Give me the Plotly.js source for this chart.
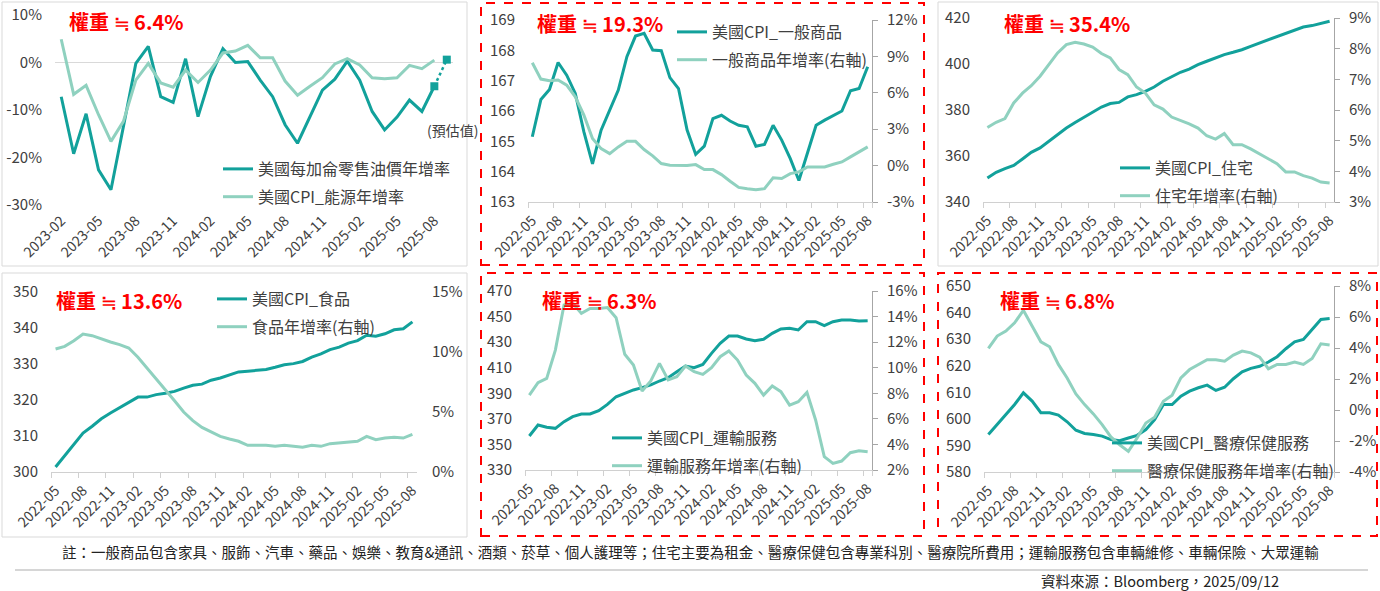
<!DOCTYPE html>
<html lang="zh-Hant">
<head>
<meta charset="UTF-8" />
<title>美國CPI分項走勢</title>
<script src="https://cdn.plot.ly/plotly-3.0.1.min.js"></script>
<style>
  html, body { margin: 0; padding: 0; background: #fff; }
  #chart { width: 1380px; height: 591px; }
</style>
</head>
<body>
<div id="chart"></div>
<script>
// ---- categories ----
const months = [
  "2022-05","2022-06","2022-07","2022-08","2022-09","2022-10","2022-11","2022-12",
  "2023-01","2023-02","2023-03","2023-04","2023-05","2023-06","2023-07","2023-08",
  "2023-09","2023-10","2023-11","2023-12","2024-01","2024-02","2024-03","2024-04",
  "2024-05","2024-06","2024-07","2024-08","2024-09","2024-10","2024-11","2024-12",
  "2025-01","2025-02","2025-03","2025-04","2025-05","2025-06","2025-07","2025-08"
];
const monthsEnergy = [
  "2023-02","2023-03","2023-04","2023-05","2023-06","2023-07","2023-08","2023-09",
  "2023-10","2023-11","2023-12","2024-01","2024-02","2024-03","2024-04","2024-05",
  "2024-06","2024-07","2024-08","2024-09","2024-10","2024-11","2024-12","2025-01",
  "2025-02","2025-03","2025-04","2025-05","2025-06","2025-07","2025-08"
];
const forecastMonths = ["2025-08", "2025-09"];

// ---- tick labels ----
const ticksLong = ["2022-05","2022-08","2022-11","2023-02","2023-05","2023-08","2023-11",
  "2024-02","2024-05","2024-08","2024-11","2025-02","2025-05","2025-08"];
const ticksEnergy = ["2023-02","2023-05","2023-08","2023-11","2024-02","2024-05",
  "2024-08","2024-11","2025-02","2025-05","2025-08"];
const energyTickVals = [-30, -20, -10, 0, 10];
const energyTickText = ["-30%", "-20%", "-10%", "0%", "10%"];
const goodsRightVals = [-3, 0, 3, 6, 9, 12];
const goodsRightText = ["-3%", "0%", "3%", "6%", "9%", "12%"];
const medRightVals = [-4, -2, 0, 2, 4, 6, 8];
const medRightText = ["-4%", "-2%", "0%", "2%", "4%", "6%", "8%"];

// ---- series ----
const oilYoY = [-7.2,-19.2,-10.8,-22.6,-26.8,-13.3,-0.2,3.4,-7.2,-8.4,0.8,
  -11.4,-2.9,2.9,0.0,0.2,-3.7,-7.2,-13.1,-17.0,-11.4,-5.8,-3.5,
  0.3,-3.7,-10.3,-14.2,-11.5,-7.9,-10.3,-5.0];
const energyYoY = [4.9,-6.7,-4.8,-11.0,-16.6,-12.4,-3.7,-0.2,-4.3,-5.2,-1.6,
  -4.2,-1.6,2.0,2.4,3.6,1.0,1.0,-3.9,-6.9,-5.0,-3.2,-0.3,
  0.8,-0.5,-3.2,-3.4,-3.2,-0.6,-1.3,0.5];
const oilForecast = [-5.0, 0.6];

const goodsCPI = [165.15,166.38,166.71,167.6,167.18,166.58,165.31,164.26,165.37,166.03,
  166.69,167.79,168.47,168.56,168.01,167.99,167.1,166.74,165.37,164.57,
  164.84,165.75,165.86,165.67,165.53,165.48,164.84,164.9,165.53,165.04,
  164.43,163.71,164.65,165.53,165.7,165.86,166.0,166.67,166.74,167.46];
const goodsYoY = [8.48,7.13,6.99,7.05,6.63,5.67,4.16,2.23,1.4,0.99,
  1.54,2.0,2.0,1.32,0.8,0.17,0.03,0.03,0.0,0.08,
  -0.33,-0.33,-0.74,-1.29,-1.8,-1.9,-1.98,-1.9,-1.0,-1.07,
  -0.66,-0.52,-0.11,-0.11,-0.11,0.11,0.3,0.72,1.13,1.54];

const shelterCPI = [350.4,352.9,354.5,355.9,358.7,361.6,363.5,366.4,369.3,372.2,
  374.6,376.8,379.1,381.3,382.8,383.3,385.7,386.7,388.1,390.0,
  392.5,394.3,396.4,397.8,399.7,401.2,402.6,404.1,405.1,406.2,
  407.7,409.1,410.6,412.0,413.5,414.9,416.1,416.7,417.8,418.6];
const shelterYoY = [5.43,5.6,5.72,6.23,6.55,6.79,7.1,7.48,7.86,8.13,
  8.21,8.15,8.05,7.84,7.7,7.32,7.15,6.75,6.55,6.17,
  6.03,5.77,5.66,5.55,5.41,5.16,5.05,5.23,4.87,4.87,
  4.73,4.57,4.41,4.25,3.98,3.98,3.86,3.78,3.65,3.62];

const foodCPI = [301.4,304.6,307.8,310.8,312.7,314.8,316.4,317.8,319.4,320.8,
  320.8,321.5,321.9,322.4,323.3,324.1,324.4,325.5,326.1,326.9,
  327.8,328.0,328.2,328.5,329.1,329.8,330.1,330.7,331.9,332.8,
  334.0,334.7,335.8,336.5,338.0,337.7,338.4,339.5,339.8,341.7];
const foodYoY = [10.25,10.47,10.94,11.5,11.36,11.08,10.83,10.61,10.33,9.56,
  8.67,7.75,6.86,5.94,5.0,4.28,3.72,3.33,2.97,2.75,
  2.56,2.22,2.22,2.22,2.14,2.22,2.14,2.06,2.22,2.14,
  2.36,2.42,2.5,2.56,2.97,2.69,2.83,2.89,2.83,3.14];

const transCPI = [356.6,365.2,363.4,362.6,367.8,371.7,373.8,373.8,376.4,381.3,
  387.3,390.0,392.6,394.4,396.5,399.6,402.2,406.9,411.3,410.0,
  412.6,421.2,429.1,434.8,434.8,432.5,431.1,432.2,436.9,440.3,
  440.8,439.5,446.0,446.0,442.9,446.0,447.3,447.3,446.5,446.8];
const transYoY = [7.86,8.83,9.17,11.38,14.9,15.04,14.25,14.64,14.64,14.7,
  13.91,11.05,10.21,8.18,8.96,10.34,9.04,9.3,10.13,9.69,
  9.48,10.0,10.86,11.31,10.6,9.43,8.78,7.86,8.57,8.13,
  7.08,7.34,8.07,5.91,3.04,2.52,2.7,3.35,3.51,3.43];

const medCPI = [594.1,597.9,601.3,605.4,609.8,606.7,602.3,602.3,601.4,598.9,
  595.7,594.5,594.1,593.5,592.2,591.8,592.8,593.8,596.0,599.7,
  605.4,605.4,608.5,610.4,611.7,612.7,610.7,611.9,615.1,617.7,
  619.0,619.8,621.4,623.4,626.4,629.0,629.9,633.7,637.4,637.8];
const medYoY = [3.97,4.77,5.09,5.63,6.43,5.41,4.40,4.08,2.94,2.07,
  1.04,0.35,-0.25,-0.94,-1.74,-2.24,-2.67,-1.81,-0.84,-0.47,
  0.56,0.95,2.07,2.61,2.94,3.24,3.24,3.15,3.54,3.80,
  3.69,3.41,2.66,2.94,2.94,3.09,2.94,3.32,4.27,4.19];

// ---- styling ----
const W = 1380, H = 591;
const FONT = '"Noto Sans CJK TC", "Noto Sans", sans-serif';
const DARK = "#12a19b";
const LIGHT = "#8fd1bf";
const TXT = "#404040";
const fx = (p) => p / W;
const fy = (p) => 1 - p / H;

// plot areas in pixels [left, right, top, bottom]
const boxes = [
  [55, 453, 15, 205],
  [528, 872, 20, 202],
  [983, 1334, 18, 202],
  [51, 417, 292, 472],
  [525, 872, 291, 470],
  [984, 1334, 286, 472]
];

function xName(k) { return k === 1 ? "x" : "x" + k; }
function yLeft(k) { return k === 1 ? "y" : "y" + (2 * k - 1); }
function yRight(k) { return "y" + (2 * k); }

function xAxis(k, cats, tickvals, withLine) {
  const b = boxes[k - 1];
  return {
    domain: [fx(b[0]), fx(b[1])],
    anchor: yLeft(k),
    type: "category",
    categoryorder: "array",
    categoryarray: cats,
    range: [-0.5, cats.length - 0.5],
    tickmode: "array",
    tickvals: tickvals,
    ticktext: tickvals,
    tickson: "boundaries",
    tickangle: -45,
    tickfont: { size: 14, color: TXT },
    showgrid: false,
    zeroline: false,
    showline: withLine,
    linecolor: "#d0d0d0",
    ticks: withLine ? "outside" : "",
    ticklen: 5,
    tickcolor: "#d0d0d0",
    ticklabelstandoff: 4,
    fixedrange: true
  };
}

function leftAxis(k, range, dtick) {
  const b = boxes[k - 1];
  return {
    domain: [fy(b[3]), fy(b[2])],
    anchor: xName(k),
    range: range,
    tick0: range[0],
    dtick: dtick,
    tickfont: { size: 15, color: TXT },
    showgrid: false,
    zeroline: false,
    showline: false,
    ticks: "",
    ticklabelstandoff: 12,
    fixedrange: true
  };
}

function rightAxis(k, range, opts) {
  return Object.assign({
    overlaying: yLeft(k),
    anchor: xName(k),
    side: "right",
    range: range,
    tick0: range[0],
    ticksuffix: "%",
    tickfont: { size: 15, color: TXT },
    showgrid: false,
    zeroline: false,
    showline: true,
    linecolor: "#a6a6a6",
    ticks: "outside",
    ticklen: 5,
    tickcolor: "#a6a6a6",
    ticklabelstandoff: 6,
    fixedrange: true
  }, opts);
}

function line(x, y, name, color, k, right, legend) {
  return {
    type: "scatter", mode: "lines", x: x, y: y, name: name,
    xaxis: xName(k), yaxis: right ? yRight(k) : yLeft(k),
    line: { color: color, width: 3 },
    legend: legend, legendgroup: name,
    hovertemplate: "%{x}: %{y}<extra>" + name + "</extra>"
  };
}

const data = [
  line(monthsEnergy, oilYoY, "美國每加侖零售油價年增率", DARK, 1, false, "legend"),
  line(monthsEnergy, energyYoY, "美國CPI_能源年增率", LIGHT, 1, false, "legend"),
  {
    type: "scatter", mode: "lines+markers", x: forecastMonths, y: oilForecast,
    xaxis: "x", yaxis: "y", showlegend: false,
    line: { color: DARK, width: 2.5, dash: "dot" },
    marker: { symbol: "square", size: 8, color: DARK }
  },
  line(months, goodsCPI, "美國CPI_一般商品", DARK, 2, false, "legend2"),
  line(months, goodsYoY, "一般商品年增率(右軸)", LIGHT, 2, true, "legend2"),
  line(months, shelterCPI, "美國CPI_住宅", DARK, 3, false, "legend3"),
  line(months, shelterYoY, "住宅年增率(右軸)", LIGHT, 3, true, "legend3"),
  line(months, foodCPI, "美國CPI_食品", DARK, 4, false, "legend4"),
  line(months, foodYoY, "食品年增率(右軸)", LIGHT, 4, true, "legend4"),
  line(months, transCPI, "美國CPI_運輸服務", DARK, 5, false, "legend5"),
  line(months, transYoY, "運輸服務年增率(右軸)", LIGHT, 5, true, "legend5"),
  line(months, medCPI, "美國CPI_醫療保健服務", DARK, 6, false, "legend6"),
  line(months, medYoY, "醫療保健服務年增率(右軸)", LIGHT, 6, true, "legend6")
];

const layout = {
  width: W, height: H,
  margin: { l: 0, r: 0, t: 0, b: 0 },
  paper_bgcolor: "#ffffff",
  plot_bgcolor: "rgba(0,0,0,0)",
  font: { family: FONT, color: TXT },
  showlegend: true,
  hovermode: "closest"
};

// x axes
const monthsP1 = monthsEnergy.concat(["2025-09"]);
layout.xaxis = xAxis(1, monthsP1, ticksEnergy, false);
for (let k = 2; k <= 6; k++) layout["xaxis" + k] = xAxis(k, months, ticksLong, true);

// left axes
layout.yaxis = Object.assign(leftAxis(1, [-30, 10], 10), {
  tickmode: "array", tickvals: energyTickVals, ticktext: energyTickText,
  zeroline: true, zerolinecolor: "#d9d9d9", zerolinewidth: 1
});
layout.yaxis3 = leftAxis(2, [163, 169], 1);
layout.yaxis5 = leftAxis(3, [340, 420], 20);
layout.yaxis7 = leftAxis(4, [300, 350], 10);
layout.yaxis9 = leftAxis(5, [330, 470], 20);
layout.yaxis11 = leftAxis(6, [580, 650], 10);

// right axes
layout.yaxis4 = rightAxis(2, [-3, 12], { tickmode: "array", tickvals: goodsRightVals, ticktext: goodsRightText });
layout.yaxis6 = rightAxis(3, [3, 9], { dtick: 1 });
layout.yaxis8 = rightAxis(4, [0, 15], { dtick: 5, showline: false, ticks: "", ticklabelstandoff: 14 });
layout.yaxis10 = rightAxis(5, [2, 16], { dtick: 2 });
layout.yaxis12 = rightAxis(6, [-4, 8], { tickmode: "array", tickvals: medRightVals, ticktext: medRightText });

// legends: [line start x, first row y]
const legendPos = [[223, 167], [677, 30], [1120, 166], [217, 297], [612, 436], [1112, 441]];
legendPos.forEach((p, i) => {
  layout[i === 0 ? "legend" : "legend" + (i + 1)] = {
    x: fx(p[0] - 5), y: fy(p[1] - 15), xanchor: "left", yanchor: "top",
    bgcolor: "rgba(0,0,0,0)", borderwidth: 0,
    font: { size: 16, color: TXT, family: FONT },
    traceorder: "grouped", tracegroupgap: 4, itemwidth: 30
  };
});

// weight labels: [text, left x, center y]
const weights = [
  ["權重 ≒ 6.4%", 67, 22], ["權重 ≒ 19.3%", 535, 23], ["權重 ≒ 35.4%", 1002, 23],
  ["權重 ≒ 13.6%", 54, 300], ["權重 ≒ 6.3%", 540, 300], ["權重 ≒ 6.8%", 998, 300]
];
layout.annotations = weights.map((w) => ({
  xref: "paper", yref: "paper", x: fx(w[1]), y: fy(w[2]),
  xanchor: "left", yanchor: "middle", showarrow: false,
  text: "<b>" + w[0] + "</b>", font: { size: 20, color: "#ff0000", family: FONT }
}));
layout.annotations.push(
  { xref: "paper", yref: "paper", x: fx(425), y: fy(130), xanchor: "left", yanchor: "middle",
    showarrow: false, text: "(預估值)", font: { size: 14, color: TXT } },
  { xref: "paper", yref: "paper", x: fx(690), y: fy(551), xanchor: "center", yanchor: "middle",
    showarrow: false, font: { size: 14.5, color: "#222" },
    text: "註：一般商品包含家具、服飾、汽車、藥品、娛樂、教育&通訊、酒類、菸草、個人護理等；住宅主要為租金、醫療保健包含專業科別、醫療院所費用；運輸服務包含車輛維修、車輛保險、大眾運輸" },
  { xref: "paper", yref: "paper", x: fx(1281), y: fy(580), xanchor: "right", yanchor: "middle",
    showarrow: false, font: { size: 14.5, color: "#222" },
    text: "資料來源：Bloomberg，2025/09/12" }
);

// panel frames
function frame(x0, y0, x1, y1, red) {
  return {
    type: "rect", xref: "paper", yref: "paper",
    x0: fx(x0), x1: fx(x1), y0: fy(y1), y1: fy(y0),
    line: red ? { color: "#ff0000", width: 2, dash: "dash" } : { color: "#d9d9d9", width: 1 },
    layer: "below"
  };
}
layout.shapes = [
  frame(2, 2, 467, 266, false),
  frame(481, 3, 924, 265, true),
  frame(938, 2, 1378, 266, false),
  frame(2, 273, 467, 537, false),
  frame(481, 273, 924, 536, true),
  frame(938, 273, 1377, 536, true),
  { type: "line", xref: "paper", yref: "paper", x0: fx(15), x1: fx(1368), y0: fy(570), y1: fy(570),
    line: { color: "#c8c8c8", width: 1.5 } }
];

Plotly.newPlot("chart", data, layout, { displayModeBar: false, staticPlot: true });
</script>
</body>
</html>
